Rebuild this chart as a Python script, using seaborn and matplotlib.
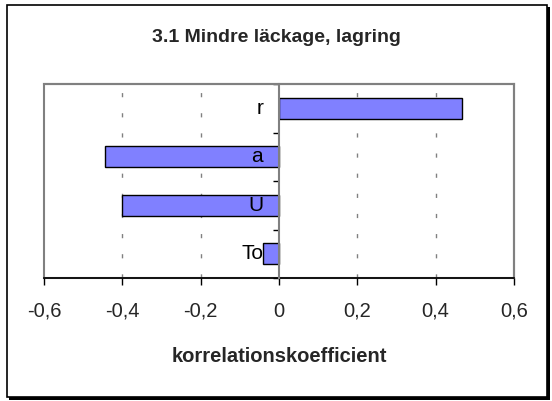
import matplotlib
matplotlib.use("Agg")
import matplotlib.pyplot as plt
from matplotlib.patches import Rectangle
import seaborn as sns
import pandas as pd

# Correlation coefficients per factor (top to bottom)
factors = ["r", "a", "U", "To"]
coefficients = [0.468, -0.445, -0.40, -0.041]
x_ticks = [-0.6, -0.4, -0.2, 0.0, 0.2, 0.4, 0.6]
x_tick_labels = ["-0,6", "-0,4", "-0,2", "0", "0,2", "0,4", "0,6"]
title = "3.1 Mindre läckage, lagring"
x_label = "korrelationskoefficient"

sns.set_style("white")
plt.rcParams["font.family"] = ["Liberation Sans", "DejaVu Sans"]

W, H = 552, 401
fig = plt.figure(figsize=(W / 100, H / 100), dpi=100)
fig.patch.set_facecolor("white")

def px_rect(x0, y0, x1, y1, **kw):
    return Rectangle((x0 / W, 1 - y1 / H), (x1 - x0) / W, (y1 - y0) / H,
                     transform=fig.transFigure, **kw)

# chart frame with drop shadow
fig.patches.append(px_rect(9, 7, 550, 400, facecolor="black", edgecolor="none", zorder=0))
fig.patches.append(px_rect(7, 5, 547, 397, facecolor="white", edgecolor="black",
                           linewidth=1.2, zorder=1))

ax = fig.add_axes([44 / W, 1 - 278 / H, 470 / W, 194 / H])
ax.set_zorder(2)

df = pd.DataFrame({"factor": factors, "coef": coefficients})
sns.barplot(data=df, x="coef", y="factor", orient="h", color="#8080FF",
            saturation=1, width=0.43, edgecolor="black", linewidth=1.0, ax=ax, zorder=3)

ax.set_xlim(-0.6, 0.6)
ax.set_ylim(len(factors) - 0.5, -0.5)
ax.set_xticks(x_ticks)
ax.set_xticklabels(x_tick_labels)
ax.tick_params(axis="x", direction="out", length=5, width=1, color="black",
               labelsize=14.5, pad=12, bottom=True)

# dashed vertical gridlines
for xv in x_ticks[1:-1]:
    if xv != 0:
        ax.axvline(xv, color="#808080", linewidth=1.0, linestyle=(0, (3, 11.5)), zorder=1)

# category axis crossing at zero, ticks at category boundaries
ax.spines["left"].set_position(("data", 0))
ax.spines["left"].set_color("#808080")
ax.spines["left"].set_linewidth(1.5)
ax.spines["left"].set_zorder(4)
ax.set_yticks([i + 0.5 for i in range(-1, len(factors))])
ax.set_yticklabels([])
ax.tick_params(axis="y", direction="out", length=4, width=1, color="black", left=True)

for s in ["top", "right"]:
    ax.spines[s].set_color("#808080")
    ax.spines[s].set_linewidth(1.5)
ax.spines["bottom"].set_color("black")
ax.spines["bottom"].set_linewidth(1.2)

# plot-area left border
ax.add_patch(Rectangle((0, 0), 1, 1, transform=ax.transAxes, fill=False,
                       edgecolor="#808080", linewidth=1.5, zorder=0, clip_on=False))

# category labels beside the zero axis
for i, name in enumerate(factors):
    ax.annotate(name, xy=(0, i), xytext=(-16, 0), textcoords="offset pixels",
                ha="right", va="center", fontsize=15, color="black", zorder=5)

ax.set_ylabel("")
ax.set_xlabel(x_label, fontsize=14.5, fontweight="bold")
ax.xaxis.label.set_va("center")
ax.xaxis.set_label_coords(0.5, -(357 - 278) / 194)

fig.text(0.5, 1 - 37 / H, title, ha="center", va="center", fontsize=14, fontweight="bold")

fig.savefig("out.png", dpi=100)
